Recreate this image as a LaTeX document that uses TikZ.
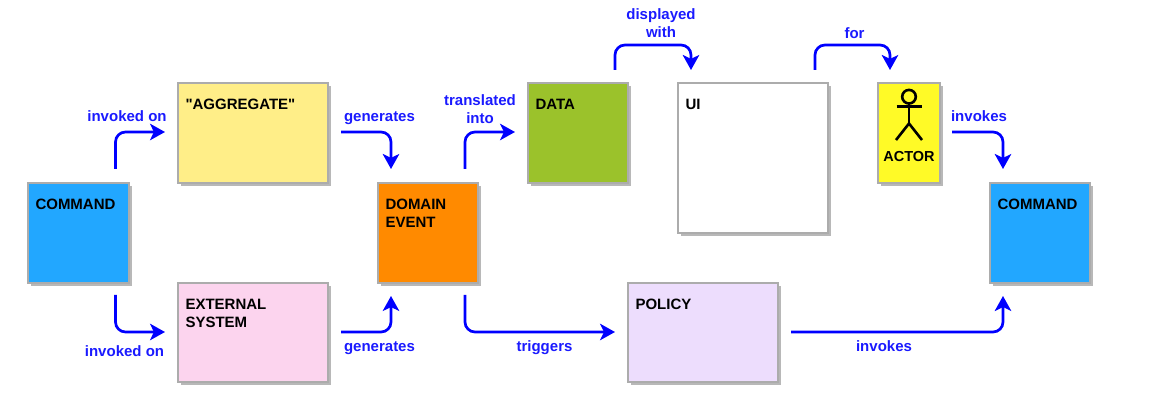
\documentclass[tikz,border=0pt]{standalone}
\usepackage{fontspec}
\setmainfont{Liberation Sans}
\newfontfamily\notefont{Liberation Sans}
\usetikzlibrary{arrows.meta,shadows}
\definecolor{cmdblue}{HTML}{22A7FF}
\definecolor{aggyellow}{HTML}{FFEE88}
\definecolor{extpink}{HTML}{FCD4EE}
\definecolor{evorange}{HTML}{FF8A00}
\definecolor{datagreen}{HTML}{9BC22B}
\definecolor{polilac}{HTML}{EDDDFD}
\definecolor{actyellow}{HTML}{FFFA27}
\definecolor{edgegray}{HTML}{ACACAC}
\definecolor{shadegray}{HTML}{B8B8B8}
\definecolor{linkblue}{HTML}{0000FF}
\definecolor{textblue}{HTML}{1A1AFF}
\newcommand{\notetext}[3]{\parbox[c][#2pt][t]{#1pt}{\vspace*{16.5pt}\leftskip=7.5pt\rightskip=0pt plus 1fil\notefont\fontsize{15}{18}\selectfont\bfseries #3\par}}
\tikzset{
  note/.style={draw=edgegray,line width=1.4pt,inner sep=0pt,outer sep=0pt,anchor=north west,text=black,
    drop shadow={shadow xshift=3pt,shadow yshift=-3pt,opacity=1,fill=shadegray}},
  link/.style={draw=linkblue,line width=2.7pt,rounded corners=10pt,-{Stealth[length=15pt,width=16.5pt,inset=4pt]}},
  linklabel/.style={text=textblue,font=\fontsize{15}{18}\selectfont\bfseries,align=center,inner sep=0pt},
  actorline/.style={draw=black,line width=2.6pt},
}
\begin{document}
\begin{tikzpicture}[x=1pt,y=-1pt]
\useasboundingbox (0,0) rectangle (1157,403);
% notes
\node[note,fill=cmdblue] (cmdA) at (28,183) {\notetext{101}{100}{COMMAND}};
\node[note,fill=aggyellow] (agg) at (178,83) {\notetext{150}{100}{"AGGREGATE"}};
\node[note,fill=extpink] (ext) at (178,283) {\notetext{150}{99}{EXTERNAL\\SYSTEM}};
\node[note,fill=evorange] (event) at (378,183) {\notetext{100}{100}{DOMAIN\\EVENT}};
\node[note,fill=datagreen] (data) at (528,83) {\notetext{100}{100}{DATA}};
\node[note,fill=white] (ui) at (678,83) {\notetext{150}{150}{UI}};
\node[note,fill=polilac] (policy) at (628,283) {\notetext{150}{99}{POLICY}};
\node[note,fill=actyellow,minimum width=62pt,minimum height=100pt] (actor) at (878,83) {};
\node[note,fill=cmdblue] (cmdB) at (990,183) {\notetext{100}{100}{COMMAND}};
% actor
\node[inner sep=0pt,font=\fontsize{14.5}{17}\selectfont\bfseries,text=black] (actorname) at (909,157) {ACTOR};
\draw[actorline] (909,96.7) circle (6.8);
\draw[actorline] (896.5,106.7) -- (921.5,106.7);
\draw[actorline] (909,103.5) -- (909,123.5);
\draw[actorline] (896,140) -- (909,123.5) -- (922,140);
% connector ends
\coordinate (s1) at (115.5,169); \coordinate (e1) at (165,132);
\coordinate (s2) at (115.5,295); \coordinate (e2) at (165,332);
\coordinate (s3) at (341,132);   \coordinate (e3) at (391,169);
\coordinate (s4) at (341,332);   \coordinate (e4) at (391,296);
\coordinate (s5) at (465,169);   \coordinate (e5) at (515,132);
\coordinate (s6) at (465,295);   \coordinate (e6) at (615,332);
\coordinate (s7) at (615,70);    \coordinate (t7) at (650,45); \coordinate (e7) at (691,70);
\coordinate (s8) at (815,70);    \coordinate (t8) at (850,45); \coordinate (e8) at (890,70);
\coordinate (s9) at (952,132);   \coordinate (e9) at (1003,169);
\coordinate (s10) at (791,332);  \coordinate (e10) at (1003,296);
% connectors
\draw[link] (s1) |- (e1);
\draw[link] (s2) |- (e2);
\draw[link] (s3) -| (e3);
\draw[link] (s4) -| (e4);
\draw[link] (s5) |- (e5);
\draw[link] (s6) |- (e6);
\draw[link] (s7) |- (t7) -| (e7);
\draw[link] (s8) |- (t8) -| (e8);
\draw[link] (s9) -| (e9);
\draw[link] (s10) -| (e10);
% labels
\node[linklabel] (l1) at (127,116) {invoked on};
\node[linklabel] (l2) at (124.5,351) {invoked on};
\node[linklabel] (l3) at (379.5,118) {generates};
\node[linklabel] (l4) at (379.5,348) {generates};
\node[linklabel] (l5) at (480,109) {translated\\into};
\node[linklabel] (l6) at (544.5,348) {triggers};
\node[linklabel] (l7) at (661,23) {displayed\\with};
\node[linklabel] (l8) at (854.5,33.5) {for};
\node[linklabel] (l9) at (979,116) {invokes};
\node[linklabel] (l10) at (884,346) {invokes};
\end{tikzpicture}
\end{document}
